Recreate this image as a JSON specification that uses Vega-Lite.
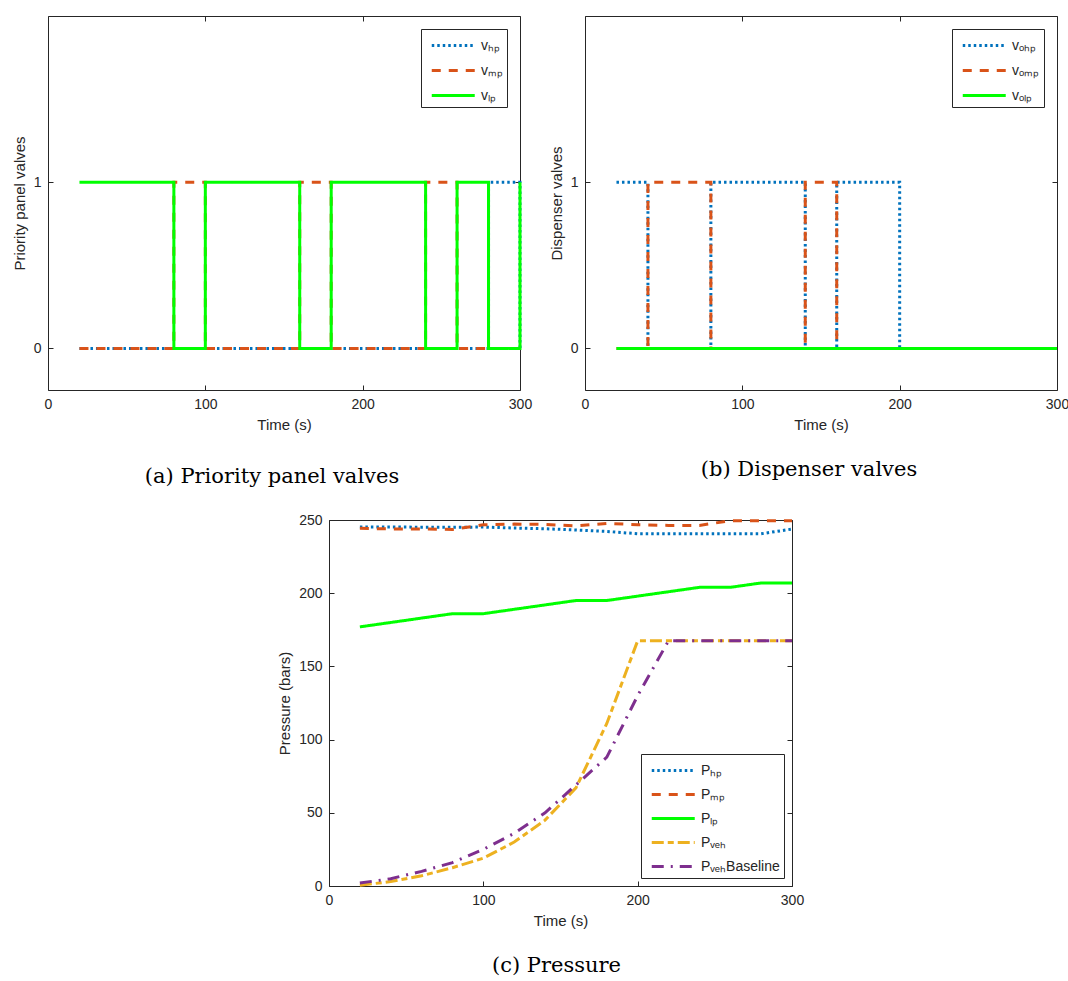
{
  "$schema": "https://vega.github.io/schema/vega-lite/v6.json",
  "padding": {"left": 12, "top": 15, "right": 0, "bottom": 0},
  "background": "white",
  "datasets": {
    "valvesA": [
      {"t": 20, "valve": "vₕₚ", "v": 0}, {"t": 40, "valve": "vₕₚ", "v": 0}, {"t": 60, "valve": "vₕₚ", "v": 0}, {"t": 80, "valve": "vₕₚ", "v": 0}, {"t": 100, "valve": "vₕₚ", "v": 0}, {"t": 120, "valve": "vₕₚ", "v": 0}, {"t": 140, "valve": "vₕₚ", "v": 0}, {"t": 160, "valve": "vₕₚ", "v": 0}, {"t": 180, "valve": "vₕₚ", "v": 0}, {"t": 200, "valve": "vₕₚ", "v": 0}, {"t": 220, "valve": "vₕₚ", "v": 0}, {"t": 240, "valve": "vₕₚ", "v": 0}, {"t": 260, "valve": "vₕₚ", "v": 0}, {"t": 280, "valve": "vₕₚ", "v": 1}, {"t": 300, "valve": "vₕₚ", "v": 0},
      {"t": 20, "valve": "vₘₚ", "v": 0}, {"t": 40, "valve": "vₘₚ", "v": 0}, {"t": 60, "valve": "vₘₚ", "v": 0}, {"t": 80, "valve": "vₘₚ", "v": 1}, {"t": 100, "valve": "vₘₚ", "v": 0}, {"t": 120, "valve": "vₘₚ", "v": 0}, {"t": 140, "valve": "vₘₚ", "v": 0}, {"t": 160, "valve": "vₘₚ", "v": 1}, {"t": 180, "valve": "vₘₚ", "v": 0}, {"t": 200, "valve": "vₘₚ", "v": 0}, {"t": 220, "valve": "vₘₚ", "v": 0}, {"t": 240, "valve": "vₘₚ", "v": 1}, {"t": 260, "valve": "vₘₚ", "v": 0}, {"t": 280, "valve": "vₘₚ", "v": 0}, {"t": 300, "valve": "vₘₚ", "v": 0},
      {"t": 20, "valve": "vₗₚ", "v": 1}, {"t": 40, "valve": "vₗₚ", "v": 1}, {"t": 60, "valve": "vₗₚ", "v": 1}, {"t": 80, "valve": "vₗₚ", "v": 0}, {"t": 100, "valve": "vₗₚ", "v": 1}, {"t": 120, "valve": "vₗₚ", "v": 1}, {"t": 140, "valve": "vₗₚ", "v": 1}, {"t": 160, "valve": "vₗₚ", "v": 0}, {"t": 180, "valve": "vₗₚ", "v": 1}, {"t": 200, "valve": "vₗₚ", "v": 1}, {"t": 220, "valve": "vₗₚ", "v": 1}, {"t": 240, "valve": "vₗₚ", "v": 0}, {"t": 260, "valve": "vₗₚ", "v": 1}, {"t": 280, "valve": "vₗₚ", "v": 0}, {"t": 300, "valve": "vₗₚ", "v": 1}
    ],
    "valvesB": [
      {"t": 20, "valve": "vₒₕₚ", "v": 1}, {"t": 40, "valve": "vₒₕₚ", "v": 0}, {"t": 60, "valve": "vₒₕₚ", "v": 0}, {"t": 80, "valve": "vₒₕₚ", "v": 1}, {"t": 100, "valve": "vₒₕₚ", "v": 1}, {"t": 120, "valve": "vₒₕₚ", "v": 1}, {"t": 140, "valve": "vₒₕₚ", "v": 0}, {"t": 160, "valve": "vₒₕₚ", "v": 1}, {"t": 180, "valve": "vₒₕₚ", "v": 1}, {"t": 200, "valve": "vₒₕₚ", "v": 0}, {"t": 220, "valve": "vₒₕₚ", "v": 0}, {"t": 240, "valve": "vₒₕₚ", "v": 0}, {"t": 260, "valve": "vₒₕₚ", "v": 0}, {"t": 280, "valve": "vₒₕₚ", "v": 0}, {"t": 300, "valve": "vₒₕₚ", "v": 0},
      {"t": 20, "valve": "vₒₘₚ", "v": 0}, {"t": 40, "valve": "vₒₘₚ", "v": 1}, {"t": 60, "valve": "vₒₘₚ", "v": 1}, {"t": 80, "valve": "vₒₘₚ", "v": 0}, {"t": 100, "valve": "vₒₘₚ", "v": 0}, {"t": 120, "valve": "vₒₘₚ", "v": 0}, {"t": 140, "valve": "vₒₘₚ", "v": 1}, {"t": 160, "valve": "vₒₘₚ", "v": 0}, {"t": 180, "valve": "vₒₘₚ", "v": 0}, {"t": 200, "valve": "vₒₘₚ", "v": 0}, {"t": 220, "valve": "vₒₘₚ", "v": 0}, {"t": 240, "valve": "vₒₘₚ", "v": 0}, {"t": 260, "valve": "vₒₘₚ", "v": 0}, {"t": 280, "valve": "vₒₘₚ", "v": 0}, {"t": 300, "valve": "vₒₘₚ", "v": 0},
      {"t": 20, "valve": "vₒₗₚ", "v": 0}, {"t": 40, "valve": "vₒₗₚ", "v": 0}, {"t": 60, "valve": "vₒₗₚ", "v": 0}, {"t": 80, "valve": "vₒₗₚ", "v": 0}, {"t": 100, "valve": "vₒₗₚ", "v": 0}, {"t": 120, "valve": "vₒₗₚ", "v": 0}, {"t": 140, "valve": "vₒₗₚ", "v": 0}, {"t": 160, "valve": "vₒₗₚ", "v": 0}, {"t": 180, "valve": "vₒₗₚ", "v": 0}, {"t": 200, "valve": "vₒₗₚ", "v": 0}, {"t": 220, "valve": "vₒₗₚ", "v": 0}, {"t": 240, "valve": "vₒₗₚ", "v": 0}, {"t": 260, "valve": "vₒₗₚ", "v": 0}, {"t": 280, "valve": "vₒₗₚ", "v": 0}, {"t": 300, "valve": "vₒₗₚ", "v": 0}
    ],
    "pressure": [
      {"t": 20, "series": "Pₕₚ", "p": 245.2}, {"t": 40, "series": "Pₕₚ", "p": 245.2}, {"t": 60, "series": "Pₕₚ", "p": 245.1}, {"t": 80, "series": "Pₕₚ", "p": 245}, {"t": 100, "series": "Pₕₚ", "p": 245.2}, {"t": 120, "series": "Pₕₚ", "p": 244.5}, {"t": 140, "series": "Pₕₚ", "p": 244}, {"t": 160, "series": "Pₕₚ", "p": 243.2}, {"t": 180, "series": "Pₕₚ", "p": 242.2}, {"t": 200, "series": "Pₕₚ", "p": 240.6}, {"t": 220, "series": "Pₕₚ", "p": 240.6}, {"t": 240, "series": "Pₕₚ", "p": 240.6}, {"t": 260, "series": "Pₕₚ", "p": 240.6}, {"t": 280, "series": "Pₕₚ", "p": 240.6}, {"t": 300, "series": "Pₕₚ", "p": 243.8},
      {"t": 20, "series": "Pₘₚ", "p": 244.3}, {"t": 40, "series": "Pₘₚ", "p": 243.9}, {"t": 60, "series": "Pₘₚ", "p": 243.9}, {"t": 80, "series": "Pₘₚ", "p": 243.5}, {"t": 100, "series": "Pₘₚ", "p": 246.7}, {"t": 120, "series": "Pₘₚ", "p": 247.2}, {"t": 140, "series": "Pₘₚ", "p": 247}, {"t": 160, "series": "Pₘₚ", "p": 245.9}, {"t": 180, "series": "Pₘₚ", "p": 247.7}, {"t": 200, "series": "Pₘₚ", "p": 246.8}, {"t": 220, "series": "Pₘₚ", "p": 246.3}, {"t": 240, "series": "Pₘₚ", "p": 246.3}, {"t": 260, "series": "Pₘₚ", "p": 249.5}, {"t": 280, "series": "Pₘₚ", "p": 249.5}, {"t": 300, "series": "Pₘₚ", "p": 249.5},
      {"t": 20, "series": "Pₗₚ", "p": 177}, {"t": 40, "series": "Pₗₚ", "p": 180}, {"t": 60, "series": "Pₗₚ", "p": 183}, {"t": 80, "series": "Pₗₚ", "p": 186}, {"t": 100, "series": "Pₗₚ", "p": 186}, {"t": 120, "series": "Pₗₚ", "p": 189}, {"t": 140, "series": "Pₗₚ", "p": 192}, {"t": 160, "series": "Pₗₚ", "p": 195}, {"t": 180, "series": "Pₗₚ", "p": 195}, {"t": 200, "series": "Pₗₚ", "p": 198}, {"t": 220, "series": "Pₗₚ", "p": 201}, {"t": 240, "series": "Pₗₚ", "p": 204}, {"t": 260, "series": "Pₗₚ", "p": 204}, {"t": 280, "series": "Pₗₚ", "p": 207}, {"t": 300, "series": "Pₗₚ", "p": 207},
      {"t": 20, "series": "Pᵥₑₕ", "p": 0.5}, {"t": 40, "series": "Pᵥₑₕ", "p": 3}, {"t": 60, "series": "Pᵥₑₕ", "p": 7}, {"t": 80, "series": "Pᵥₑₕ", "p": 12.5}, {"t": 100, "series": "Pᵥₑₕ", "p": 19}, {"t": 120, "series": "Pᵥₑₕ", "p": 30}, {"t": 140, "series": "Pᵥₑₕ", "p": 45}, {"t": 160, "series": "Pᵥₑₕ", "p": 67}, {"t": 180, "series": "Pᵥₑₕ", "p": 111}, {"t": 200, "series": "Pᵥₑₕ", "p": 167.5}, {"t": 220, "series": "Pᵥₑₕ", "p": 167.5}, {"t": 240, "series": "Pᵥₑₕ", "p": 167.5}, {"t": 260, "series": "Pᵥₑₕ", "p": 167.5}, {"t": 280, "series": "Pᵥₑₕ", "p": 167.5}, {"t": 300, "series": "Pᵥₑₕ", "p": 167.5},
      {"t": 20, "series": "PᵥₑₕBaseline", "p": 2}, {"t": 40, "series": "PᵥₑₕBaseline", "p": 5}, {"t": 60, "series": "PᵥₑₕBaseline", "p": 10}, {"t": 80, "series": "PᵥₑₕBaseline", "p": 16}, {"t": 100, "series": "PᵥₑₕBaseline", "p": 25}, {"t": 120, "series": "PᵥₑₕBaseline", "p": 36}, {"t": 140, "series": "PᵥₑₕBaseline", "p": 50}, {"t": 160, "series": "PᵥₑₕBaseline", "p": 69}, {"t": 180, "series": "PᵥₑₕBaseline", "p": 88}, {"t": 200, "series": "PᵥₑₕBaseline", "p": 130}, {"t": 220, "series": "PᵥₑₕBaseline", "p": 167.5}, {"t": 240, "series": "PᵥₑₕBaseline", "p": 167.5}, {"t": 260, "series": "PᵥₑₕBaseline", "p": 167.5}, {"t": 280, "series": "PᵥₑₕBaseline", "p": 167.5}, {"t": 300, "series": "PᵥₑₕBaseline", "p": 167.5}
    ],
    "spacer": [{}]
  },
  "vconcat": [
    {
      "hconcat": [
        {
          "width": 472, "height": 374,
          "title": {"text": "(a) Priority panel valves", "offset": 34, "dx": -12},
          "data": {"name": "valvesA"},
          "layer": [
            {
              "mark": {"type": "line", "interpolate": "step-after", "strokeWidth": 3, "strokeCap": "butt"},
              "encoding": {
                "x": {"field": "t", "type": "quantitative", "scale": {"domain": [0, 300], "nice": false}, "axis": {"values": [0, 100, 200, 300], "title": "Time (s)"}},
                "y": {"field": "v", "type": "quantitative", "scale": {"domain": [-0.25, 2], "nice": false, "zero": false}, "axis": {"values": [0, 1], "title": "Priority panel valves"}},
                "color": {"field": "valve", "type": "nominal", "scale": {"domain": ["vₕₚ", "vₘₚ", "vₗₚ"], "range": ["#0072BD", "#D95319", "#00FF00"]}, "legend": {"title": null, "orient": "top-right"}},
                "strokeDash": {"field": "valve", "type": "nominal", "scale": {"domain": ["vₕₚ", "vₘₚ", "vₗₚ"], "range": [[2.5, 3], [9, 8], [1, 0]]}, "legend": {"title": null, "orient": "top-right"}}
              }
            },
            {
              "mark": {"type": "line", "opacity": 0},
              "encoding": {
                "x": {"field": "t", "type": "quantitative", "axis": {"orient": "top", "labels": false, "title": null, "values": [0, 100, 200, 300]}},
                "y": {"field": "v", "type": "quantitative", "axis": {"orient": "right", "labels": false, "title": null, "values": [0, 1]}}
              }
            }
          ],
          "resolve": {"axis": {"x": "independent", "y": "independent"}}
        },
        {
          "width": 472, "height": 374,
          "title": {"text": "(b) Dispenser valves", "offset": 27, "dx": -12},
          "data": {"name": "valvesB"},
          "layer": [
            {
              "mark": {"type": "line", "interpolate": "step-after", "strokeWidth": 3, "strokeCap": "butt"},
              "encoding": {
                "x": {"field": "t", "type": "quantitative", "scale": {"domain": [0, 300], "nice": false}, "axis": {"values": [0, 100, 200, 300], "title": "Time (s)"}},
                "y": {"field": "v", "type": "quantitative", "scale": {"domain": [-0.25, 2], "nice": false, "zero": false}, "axis": {"values": [0, 1], "title": "Dispenser valves"}},
                "color": {"field": "valve", "type": "nominal", "scale": {"domain": ["vₒₕₚ", "vₒₘₚ", "vₒₗₚ"], "range": ["#0072BD", "#D95319", "#00FF00"]}, "legend": {"title": null, "orient": "top-right"}},
                "strokeDash": {"field": "valve", "type": "nominal", "scale": {"domain": ["vₒₕₚ", "vₒₘₚ", "vₒₗₚ"], "range": [[2.5, 3], [9, 8], [1, 0]]}, "legend": {"title": null, "orient": "top-right"}}
              }
            },
            {
              "mark": {"type": "line", "opacity": 0},
              "encoding": {
                "x": {"field": "t", "type": "quantitative", "axis": {"orient": "top", "labels": false, "title": null, "values": [0, 100, 200, 300]}},
                "y": {"field": "v", "type": "quantitative", "axis": {"orient": "right", "labels": false, "title": null, "values": [0, 1]}}
              }
            }
          ],
          "resolve": {"axis": {"x": "independent", "y": "independent"}}
        }
      ],
      "spacing": 17,
      "resolve": {"scale": {"color": "independent", "strokeDash": "independent"}, "legend": {"color": "independent", "strokeDash": "independent"}}
    },
    {
      "hconcat": [
        {
          "width": 229, "height": 10,
          "data": {"name": "spacer"},
          "mark": {"type": "point", "opacity": 0},
          "encoding": {}
        },
        {
          "width": 463, "height": 366,
          "title": {"text": "(c) Pressure", "offset": 27, "dx": -4},
          "data": {"name": "pressure"},
          "layer": [
            {
              "mark": {"type": "line", "strokeWidth": 3, "strokeCap": "butt"},
              "encoding": {
                "x": {"field": "t", "type": "quantitative", "scale": {"domain": [0, 300], "nice": false}, "axis": {"values": [0, 100, 200, 300], "title": "Time (s)"}},
                "y": {"field": "p", "type": "quantitative", "scale": {"domain": [0, 250], "nice": false}, "axis": {"values": [0, 50, 100, 150, 200, 250], "title": "Pressure (bars)"}},
                "color": {"field": "series", "type": "nominal", "scale": {"domain": ["Pₕₚ", "Pₘₚ", "Pₗₚ", "Pᵥₑₕ", "PᵥₑₕBaseline"], "range": ["#0072BD", "#D95319", "#00FF00", "#EDB120", "#7E2F8E"]}, "legend": {"title": null, "orient": "bottom-right", "offset": 8, "rowPadding": 4}},
                "strokeDash": {"field": "series", "type": "nominal", "scale": {"domain": ["Pₕₚ", "Pₘₚ", "Pₗₚ", "Pᵥₑₕ", "PᵥₑₕBaseline"], "range": [[2.5, 3], [9, 8], [1, 0], [12, 4, 6, 4], [12, 7, 2, 7]]}, "legend": {"title": null, "orient": "bottom-right", "offset": 8, "rowPadding": 4}}
              }
            },
            {
              "mark": {"type": "line", "opacity": 0},
              "encoding": {
                "x": {"field": "t", "type": "quantitative", "axis": {"orient": "top", "labels": false, "title": null, "values": [0, 100, 200, 300]}},
                "y": {"field": "p", "type": "quantitative", "axis": {"orient": "right", "labels": false, "title": null, "values": [0, 50, 100, 150, 200, 250]}}
              }
            }
          ],
          "resolve": {"axis": {"x": "independent", "y": "independent"}}
        }
      ],
      "spacing": 0,
      "resolve": {"scale": {"color": "independent", "strokeDash": "independent"}, "legend": {"color": "independent", "strokeDash": "independent"}}
    }
  ],
  "spacing": 26,
  "resolve": {"scale": {"color": "independent", "strokeDash": "independent"}, "legend": {"color": "independent", "strokeDash": "independent"}},
  "config": {
    "font": "Liberation Sans",
    "view": {"stroke": null},
    "axis": {
      "grid": false,
      "domainColor": "#262626", "tickColor": "#262626", "labelColor": "#262626", "titleColor": "#262626",
      "labelFontSize": 14, "titleFontSize": 15, "titleFontWeight": "normal",
      "tickSize": -5, "labelPadding": 12, "labelFlush": false, "titlePadding": 6,
      "domainWidth": 1, "tickWidth": 1
    },
    "legend": {
      "fillColor": "white", "strokeColor": "#262626", "padding": 4, "offset": 13, "symbolOffset": 5,
      "symbolType": "M-1,0H3", "symbolSize": 462, "symbolStrokeWidth": 3,
      "labelFontSize": 14, "labelColor": "#262626", "rowPadding": 5, "labelOffset": 26, "cornerRadius": 0
    },
    "title": {"font": "DejaVu Serif", "fontSize": 21, "fontWeight": "normal", "color": "black", "orient": "bottom", "anchor": "middle"}
  }
}
